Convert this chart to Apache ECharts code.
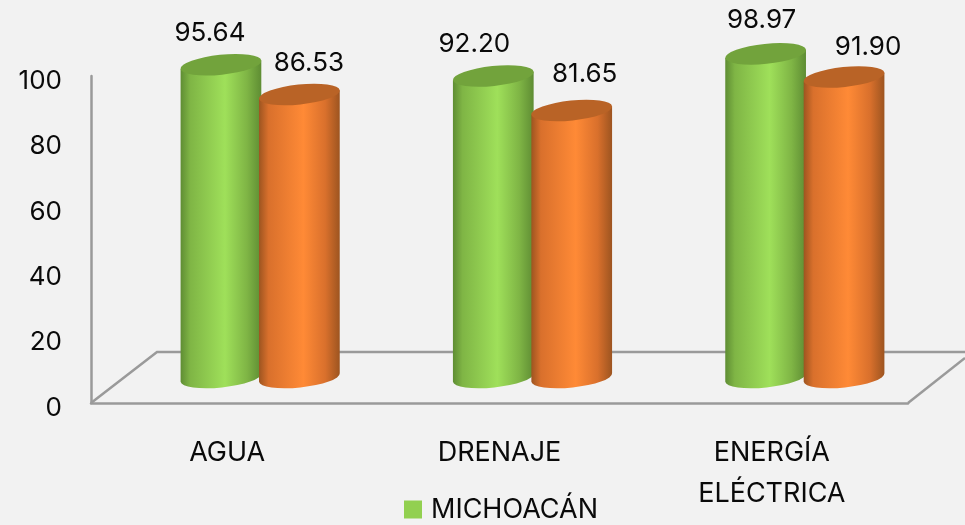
<!DOCTYPE html>
<html>
<head>
<meta charset="utf-8">
<style>html,body{margin:0;padding:0;background:#f2f2f2}#c{width:965px;height:525px}</style>
<script src="https://cdn.jsdelivr.net/npm/echarts@6/dist/echarts.min.js"></script>
</head>
<body>
<div id="c"></div>
<script>
const categories = ['AGUA', 'DRENAJE', 'ENERGÍA\nELÉCTRICA'];
const michoacan = [95.64, 92.20, 98.97];
const secondSeries = [86.53, 81.65, 91.90];
const yTicks = [0, 20, 40, 60, 80, 100];

const FONT = 'Inter';
const DEPTH_X = 66, DEPTH_Y = 51;
const labelShiftGreen = [[-11, -32], [-19, -32], [-4, -34]];
const labelShiftOrange = [[9.5, -31], [13, -36], [24, -30]];

function cylinder(side, colors, shifts) {
  return function (params, api) {
    const i = api.value(0);
    const val = api.value(1);
    const top = api.coord([i, val]);
    const base = api.coord([i, 0]);
    const band = api.size([1, 0])[0];
    const rx = band * 0.149, ry = 10;
    const tilt = 6 * Math.PI / 180;
    const cx = top[0] + DEPTH_X / 2 + side * band * 0.144;
    const ty = top[1] - DEPTH_Y / 2;
    const by = base[1] - DEPTH_Y / 2;
    const ox = rx * Math.cos(tilt), oy = rx * Math.sin(tilt);
    const deg = -6;
    const body = 'M' + (cx - ox) + ' ' + (ty + oy) +
      ' L' + (cx + ox) + ' ' + (ty - oy) +
      ' L' + (cx + ox) + ' ' + (by - oy) +
      ' A' + rx + ' ' + ry + ' ' + deg + ' 0 1 ' + (cx - ox) + ' ' + (by + oy) + ' Z';
    const cap = 'M' + (cx - ox) + ' ' + (ty + oy) +
      ' A' + rx + ' ' + ry + ' ' + deg + ' 0 1 ' + (cx + ox) + ' ' + (ty - oy) +
      ' A' + rx + ' ' + ry + ' ' + deg + ' 0 1 ' + (cx - ox) + ' ' + (ty + oy) + ' Z';
    const s = shifts[i];
    return {
      type: 'group',
      children: [
        { type: 'path', shape: { pathData: body }, style: {
            fill: new echarts.graphic.LinearGradient(0, 0, 1, 0, [
              { offset: 0, color: colors[0] },
              { offset: 0.12, color: colors[1] },
              { offset: 0.55, color: colors[2] },
              { offset: 0.82, color: colors[1] },
              { offset: 1, color: colors[0] }
            ]) } },
        { type: 'path', shape: { pathData: cap }, style: { fill: colors[3] } },
        { type: 'text', z2: 50, style: {
            text: val.toFixed(2), x: cx + s[0], y: ty + s[1],
            align: 'center', verticalAlign: 'middle',
            font: '26px ' + FONT, fill: '#0a0a0a' } }
      ]
    };
  };
}

function floor(params, api) {
  const r = params.coordSys;
  const L = r.x, R = r.x + r.width, B = r.y + r.height;
  const line = { stroke: '#9a9a9a', lineWidth: 2.5, fill: 'none' };
  return {
    type: 'group',
    children: [
      { type: 'polyline', shape: { points: [[L, B], [L + DEPTH_X, B - DEPTH_Y], [R + 57, B - DEPTH_Y]] }, style: line },
      { type: 'line', shape: { x1: R, y1: B, x2: R + 57, y2: B - 45 }, style: line }
    ]
  };
}

const chart = echarts.init(document.getElementById('c'), null, { renderer: 'canvas' });
chart.setOption({
  animation: false,
  backgroundColor: '#f2f2f2',
  grid: { left: 91, right: 57, top: 76, bottom: 122 },
  legend: {
    data: ['MICHOACÁN'], left: 399, top: 491, itemWidth: 18, itemHeight: 18,
    icon: 'rect',
    textStyle: { fontFamily: FONT, fontSize: 27, color: '#0a0a0a', padding: [0, 0, 0, 4] }
  },
  xAxis: {
    type: 'category', data: categories,
    axisTick: { show: false },
    axisLine: { lineStyle: { color: '#9a9a9a', width: 2.5 } },
    axisLabel: { fontFamily: FONT, fontSize: 27, color: '#0a0a0a', margin: 29, lineHeight: 41, interval: 0 }
  },
  yAxis: {
    type: 'value', min: 0, max: 100, interval: 20,
    splitLine: { show: false },
    axisTick: { show: false },
    axisLine: { show: true, lineStyle: { color: '#9a9a9a', width: 2.5 } },
    axisLabel: { fontFamily: FONT, fontSize: 26, color: '#0a0a0a', margin: 29,
      verticalAlign: 'top', lineHeight: 10,
      formatter: v => yTicks.includes(v) ? String(v) : '' }
  },
  series: [
    { type: 'custom', name: 'floor', coordinateSystem: 'cartesian2d', clip: false, z: 1, silent: true,
      renderItem: floor, data: [[0, 0]], encode: { x: 0, y: 1 } },
    { type: 'custom', name: 'MICHOACÁN', coordinateSystem: 'cartesian2d', clip: false, z: 3,
      itemStyle: { color: '#92d050' },
      renderItem: cylinder(-1, ['#5e8c33', '#7fb545', '#9fe05a', '#72a33c'], labelShiftGreen),
      data: michoacan.map((v, i) => [i, v]), encode: { x: 0, y: 1 } },
    { type: 'custom', name: 'Serie 2', coordinateSystem: 'cartesian2d', clip: false, z: 4,
      itemStyle: { color: '#ff8533' },
      renderItem: cylinder(1, ['#9c5420', '#d9702c', '#ff8a36', '#b96326'], labelShiftOrange),
      data: secondSeries.map((v, i) => [i, v]), encode: { x: 0, y: 1 } }
  ]
});
</script>
</body>
</html>
